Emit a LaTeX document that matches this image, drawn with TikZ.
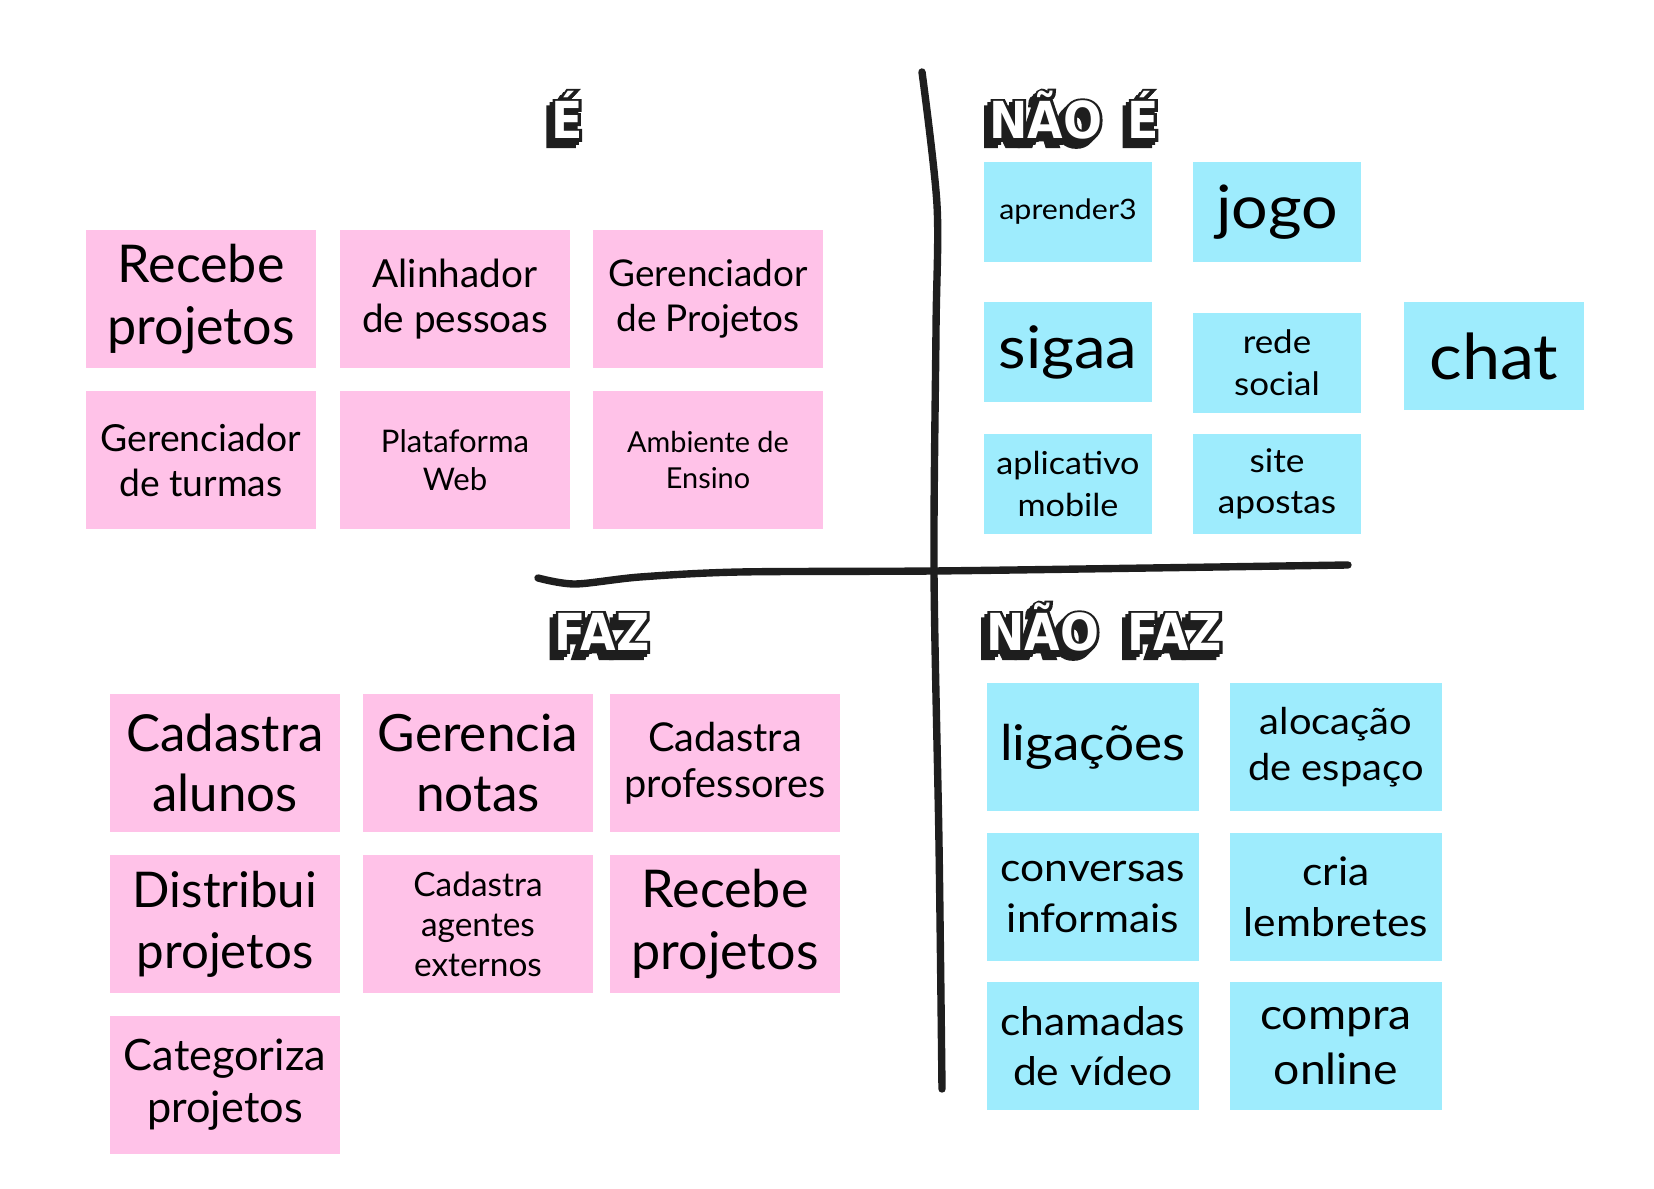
\documentclass[tikz,border=0pt]{standalone}
\usepackage{fontspec}
\setmainfont{Lato}
\newfontfamily\widefont{Lato}[FakeStretch=1.08]
\newfontfamily\titlefont{DejaVu Sans}[FakeStretch=0.9]
\newfontfamily\titleink{DejaVu Sans}[FakeStretch=0.9, BoldFeatures={FakeBold=11}]
\usepackage{tikz}

\definecolor{postpink}{RGB}{255,194,232}
\definecolor{postblue}{RGB}{158,236,253}
\definecolor{ink}{RGB}{30,30,30}

\tikzset{
  post/.style={align=center, inner sep=0pt, text=black},
  pinkpost/.style 2 args={post, fill=postpink, minimum width=2.3cm, minimum height=1.38cm,
    font=\fontsize{#1}{#2}\selectfont},
  smallblue/.style 2 args={post, fill=postblue, minimum width=1.67cm, minimum height=0.99cm,
    font=\widefont\fontsize{#1}{#2}\selectfont},
  bigblue/.style 2 args={post, fill=postblue, minimum width=2.12cm, minimum height=1.28cm,
    font=\widefont\fontsize{#1}{#2}\selectfont},
  titletext/.style={anchor=base, inner sep=0pt, font=\titlefont\bfseries\fontsize{14.5}{17}\selectfont},
  titleshadow/.style={titletext, text=ink, font=\titleink\bfseries\fontsize{14.5}{17}\selectfont},
  quadline/.style={ink, line width=2.1pt, line cap=round}
}

\newcommand{\comictitle}[3]{%
  \foreach \t in {0,0.9,1.8}
    \node[titleshadow, xshift=-\t pt, yshift=-\t pt] at (#2) {#3};
  \node[titletext, text=white] (#1) at (#2) {#3};
}

\begin{document}
\begin{tikzpicture}[x=0.01cm, y=-0.01cm]
\useasboundingbox (0,0) rectangle (1654,1189);

\draw[quadline] plot[smooth] coordinates {(922,72) (937,205) (936,330) (934,571) (939,844) (942,1089)};
\draw[quadline] plot[smooth] coordinates {(538,578) (575,584) (640,577) (740,572) (934,571) (1150,568) (1348,565)};

\comictitle{e}{567,139}{É}
\comictitle{naoe}{1074,139}{NÃO\hspace{0.5em}É}
\comictitle{faz}{602,651}{FAZ}
\comictitle{naofaz}{1104,651}{NÃO\hspace{0.55em}FAZ}

\node[pinkpost={14.8}{17.4}] (recebe) at (201,299) {Recebe\\projetos};
\node[pinkpost={11}{12.8}] (alinhador) at (455,299) {Alinhador\\de pessoas};
\node[pinkpost={10.5}{12.8}] (gerprojetos) at (708,299) {Gerenciador\\de Projetos};
\node[pinkpost={10.6}{12.8}] (gerturmas) at (201,460) {Gerenciador\\de turmas};
\node[pinkpost={8.85}{10.8}] (plataforma) at (455,460) {Plataforma\\Web};
\node[pinkpost={8.2}{10}] (ambiente) at (708,460) {Ambiente de\\Ensino};

\node[pinkpost={14.5}{17.2}] (cadalunos) at (225,763) {Cadastra\\alunos};
\node[pinkpost={14.6}{17.2}] (gernotas) at (478,763) {Gerencia\\notas};
\node[pinkpost={11.3}{13.1}] (cadprof) at (725,763) {Cadastra\\professores};
\node[pinkpost={14}{17.4}] (distribui) at (225,924) {Distribui\\projetos};
\node[pinkpost={9.5}{11.4}] (cadagentes) at (478,924) {Cadastra\\agentes\\externos};
\node[pinkpost={14.8}{17.4}] (recebe2) at (725,924) {Recebe\\projetos};
\node[pinkpost={12.3}{14.8}] (categoriza) at (225,1085) {Categoriza\\projetos};

\node[smallblue={8}{10}] (aprender) at (1068,212) {aprender3};
\node[smallblue={17}{24}] (jogo) at (1277,212) {jogo};
\node[smallblue={16.7}{22}] (sigaa) at (1068,352) {sigaa};
\node[smallblue={9.2}{12}] (rede) at (1277,363) {rede\\social};
\node[post, fill=postblue, minimum width=1.8cm, minimum height=1.08cm,
  font=\widefont\fontsize{18}{24}\selectfont] (chat) at (1494,356) {chat};
\node[smallblue={9}{11.7}] (aplicativo) at (1068,484) {aplicativo\\mobile};
\node[smallblue={9.3}{11.7}] (apostas) at (1277,484) {site\\apostas};

\node[bigblue={14}{16}] (ligacoes) at (1093,747) {ligações};
\node[bigblue={10.5}{13.1}] (alocacao) at (1336,747) {alocação\\de espaço};
\node[bigblue={11.2}{14.4}] (conversas) at (1093,897) {conversas\\informais};
\node[bigblue={11.2}{14.4}] (lembretes) at (1336,897) {cria\\lembretes};
\node[bigblue={11.2}{14.4}] (chamadas) at (1093,1046) {chamadas\\de vídeo};
\node[bigblue={12.2}{15.6}] (compra) at (1336,1046) {compra\\online};
\end{tikzpicture}
\end{document}
